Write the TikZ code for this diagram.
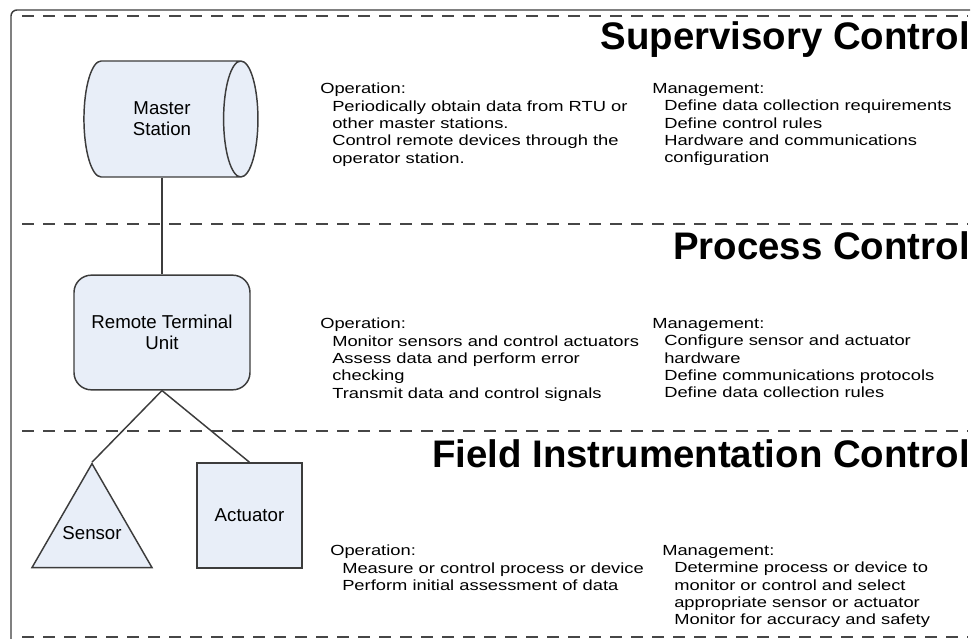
\documentclass[tikz,border=0pt]{standalone}
\usepackage{fontspec}
\setmainfont{Liberation Sans}
\newfontfamily\blockfont{Liberation Sans}[FakeStretch=1.25]
\usetikzlibrary{shapes.geometric}
\definecolor{unitfill}{RGB}{232, 238, 248}
\definecolor{unitgray}{RGB}{60, 60, 60}
\definecolor{lanegray}{RGB}{70, 70, 70}
\newcommand{\ind}{\hspace*{9pt}}

\begin{document}
\begin{tikzpicture}[
    x=0.75pt, y=-0.75pt,
    base/.style={draw=unitgray, fill=unitfill, line width=1.1pt, align=center, inner sep=0pt, font=\fontsize{14}{16}\selectfont},
    station/.style={base, cylinder, aspect=1.0, minimum width=87pt, minimum height=130.5pt},
    unit/.style={base, rectangle, rounded corners=13pt, minimum width=132pt, minimum height=86pt},
    sensorshape/.style={base, regular polygon, regular polygon sides=3, minimum size=104pt},
    actuatorshape/.style={base, rectangle, minimum size=78.75pt},
    lanetitle/.style={anchor=base east, inner sep=0pt, font=\fontsize{28.8}{30}\selectfont\bfseries},
    info/.style={anchor=north west, align=left, inner sep=0pt, font=\blockfont\fontsize{11}{13}\selectfont},
    wire/.style={draw=unitgray, line width=1.1pt},
    lane/.style={draw=lanegray, line width=1.2pt, dash pattern=on 9pt off 6.75pt},
    frame/.style={draw=unitgray, line width=1.1pt, rounded corners=4.5pt}
]
\useasboundingbox (0,0) rectangle (972,641);

% frame and lanes
\draw[frame] (970,10) -- (11,10) -- (11,639);
\foreach \y in {16,224,431,637}
    \draw[lane] (22,\y) -- (968,\y);

\node[lanetitle] (suptitle) at (970,50) {Supervisory Control};
\node[lanetitle] (proctitle) at (970,260) {Process Control};
\node[lanetitle] (fieldtitle) at (970,468) {Field Instrumentation Control};

% devices
\node[station] (master) at (162,119) {Master\\Station};
\node[unit] (rtu) at (162,332.5) {Remote Terminal\\Unit};
\node[sensorshape] (sensor) at (92,533) {\makebox[0pt]{Sensor}};
\node[actuatorshape] (actuator) at (249.5,515.5) {Actuator};

\draw[wire] (rtu.north |- master.south) -- (rtu.north);
\draw[wire] (rtu.south) -- (sensor.corner 1);
\draw[wire] (rtu.south) -- (actuator.north);

% supervisory
\node[info] (supop) at (320,83) {Operation:\\
    \ind Periodically obtain data from RTU or\\
    \ind other master stations.\\
    \ind Control remote devices through the\\
    \ind operator station.};
\node[info] (supman) at (652,83) {Management:\\
    \ind Define data collection requirements\\
    \ind Define control rules\\
    \ind Hardware and communications\\
    \ind configuration};

% process
\node[info] (procop) at (320,318) {Operation:\\
    \ind Monitor sensors and control actuators\\
    \ind Assess data and perform error\\
    \ind checking\\
    \ind Transmit data and control signals};
\node[info] (procman) at (652,318) {Management:\\
    \ind Configure sensor and actuator\\
    \ind hardware\\
    \ind Define communications protocols\\
    \ind Define data collection rules};

% field
\node[info] (fieldop) at (330,545) {Operation:\\
    \ind Measure or control process or device\\
    \ind Perform initial assessment of data};
\node[info] (fieldman) at (662,545) {Management:\\
    \ind Determine process or device to\\
    \ind monitor or control and select\\
    \ind appropriate sensor or actuator\\
    \ind Monitor for accuracy and safety};

\end{tikzpicture}
\end{document}
